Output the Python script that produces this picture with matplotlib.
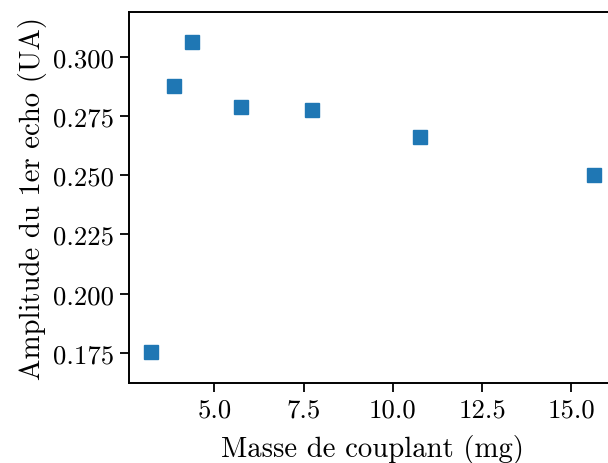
import matplotlib
matplotlib.use("Agg")
import matplotlib.pyplot as plt

masse = [3.22, 3.87, 4.37, 5.75, 7.73, 10.76, 15.63]
amplitude = [0.1754, 0.2878, 0.3063, 0.2789, 0.2776, 0.2662, 0.2500]

plt.rcParams['font.family'] = 'serif'
plt.rcParams['font.serif'] = ['cmr10']
plt.rcParams['mathtext.fontset'] = 'cm'
plt.rcParams['axes.formatter.use_mathtext'] = True

fig = plt.figure(figsize=(6.08, 4.64), dpi=100)
ax = fig.add_axes([0.2117, 0.1724, 1.013 - 0.2117, 0.9726 - 0.1724])
ax.plot(masse, amplitude, 's', color='#1f77b4', markersize=9.5)
ax.set_xlim(2.60, 16.25)
ax.set_ylim(0.1623, 0.319)
ax.set_xticks([5.0, 7.5, 10.0, 12.5, 15.0])
ax.set_yticks([0.175, 0.200, 0.225, 0.250, 0.275, 0.300])
ax.set_xticklabels(['5.0', '7.5', '10.0', '12.5', '15.0'])
ax.set_yticklabels(['0.175', '0.200', '0.225', '0.250', '0.275', '0.300'])
for s in ax.spines.values():
    s.set_linewidth(1.4)
ax.tick_params(labelsize=19.3, length=6.5, width=1.3, pad=4)
ax.set_xlabel('Masse de couplant (mg)', fontsize=20.7, labelpad=9)
ax.set_ylabel('Amplitude du 1er echo (UA)', fontsize=20.7)
fig.savefig('out.png', dpi=100)
